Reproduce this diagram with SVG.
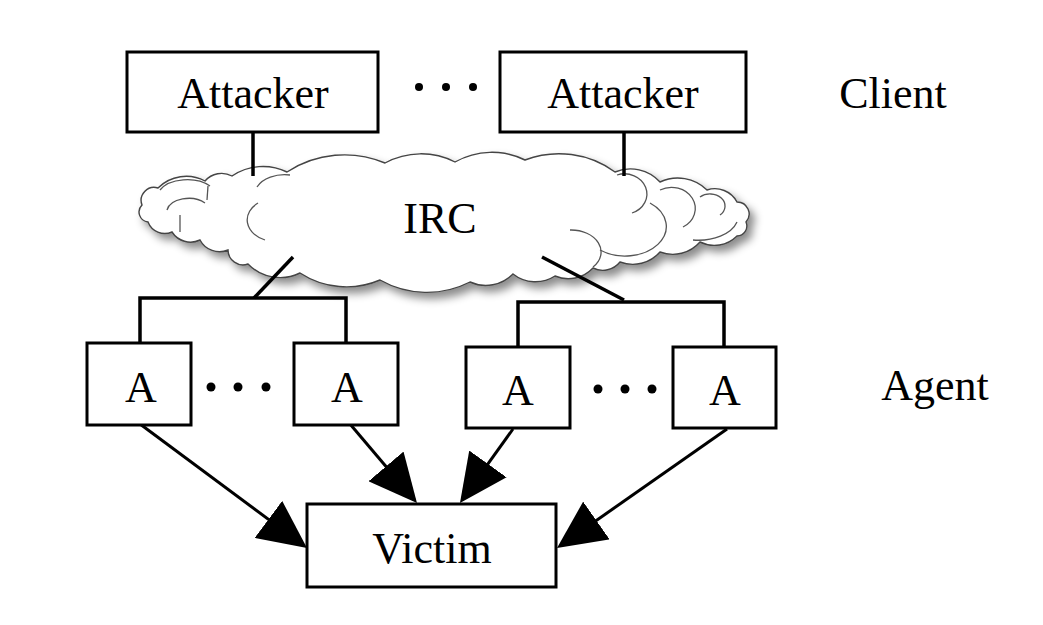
<svg xmlns="http://www.w3.org/2000/svg" width="1043" height="625" viewBox="0 0 1043 625">
  <style>
    .box { fill: #fff; stroke: #000; stroke-width: 3; }
    .lbl { font-family: "Liberation Serif", "Times New Roman", serif; font-size: 44px; fill: #000; text-anchor: middle; }
    .wire { stroke: #000; stroke-width: 3.5; fill: none; stroke-linecap: butt; }
    .arrow { stroke: #000; stroke-width: 3; fill: none; marker-end: url(#head); }
    .puff { fill: #fff; stroke: #444; stroke-width: 1.4; }
    .fold { fill: none; stroke: #555; stroke-width: 1.3; }
    .dot { fill: #000; }
  </style>
  <defs>
    <marker id="head" markerUnits="userSpaceOnUse" markerWidth="50" markerHeight="46" refX="44" refY="23" orient="auto">
      <path d="M0,0 L48,23 L0,46 z" fill="#000"/>
    </marker>
    <filter id="soft" x="-10%" y="-30%" width="125%" height="170%">
      <feGaussianBlur in="SourceAlpha" stdDeviation="4"/>
      <feOffset dx="5" dy="6" result="b"/>
      <feFlood flood-color="#000" flood-opacity="0.45"/>
      <feComposite in2="b" operator="in"/>
      <feMerge>
        <feMergeNode/>
        <feMergeNode in="SourceGraphic"/>
      </feMerge>
    </filter>
  </defs>

  <rect width="1043" height="625" fill="#fff"/>

  <!-- side labels -->
  <text class="lbl" x="893" y="108">Client</text>
  <text class="lbl" x="935" y="400">Agent</text>

  <!-- IRC cloud -->
  <g id="irc">
    <path class="puff" filter="url(#soft)" d="M142,205
      A13,13 0 0 1 158,188
      A40,40 0 0 1 205,181
      A22,22 0 0 1 232,176
      A55,55 0 0 1 287,172
      A105,105 0 0 1 385,163
      A75,75 0 0 1 455,162
      A75,75 0 0 1 525,160
      A95,95 0 0 1 615,172
      A40,40 0 0 1 660,182
      A42,42 0 0 1 707,190
      A25,25 0 0 1 737,202
      A12,12 0 0 1 746,222
      A10,10 0 0 1 737,236
      A32,32 0 0 1 700,242
      A36,36 0 0 1 660,252
      A36,36 0 0 1 620,262
      A22,22 0 0 1 593,268
      A34,34 0 0 1 555,276
      A36,36 0 0 1 513,274
      A38,38 0 0 1 470,282
      A95,95 0 0 1 380,280
      A85,85 0 0 1 300,273
      A45,45 0 0 1 248,264
      A15,15 0 0 1 228,250
      A22,22 0 0 1 200,240
      A22,22 0 0 1 172,232
      A18,18 0 0 1 148,222
      A10,10 0 0 1 142,205 Z"/>
    <!-- inner folds of the puffs -->
    <path class="fold" d="M258,203 A30,22 0 0 0 265,240"/>
    <path class="fold" d="M167,210 A22,14 0 0 1 205,203"/>
    <path class="fold" d="M160,190 A30,18 0 0 1 210,186"/>
    <path class="fold" d="M257,187 A30,20 0 0 1 290,175"/>
    <path class="fold" d="M208,186 L207,200"/>
    <path class="fold" d="M180,215 L180,232"/>
    <path class="fold" d="M632,213 A20,18 0 0 0 617,175"/>
    <path class="fold" d="M570,230 A30,22 0 0 1 593,267"/>
    <path class="fold" d="M650,203 A35,25 0 0 1 600,250"/>
    <path class="fold" d="M683,227 A18,16 0 0 0 660,190"/>
    <path class="fold" d="M693,240 A40,25 0 0 0 737,222"/>
    <path class="fold" d="M720,215 A15,12 0 0 0 700,197"/>
    <text class="lbl" x="440" y="233">IRC</text>
  </g>

  <!-- connectors -->
  <g id="connectors">
    <line class="wire" x1="253" y1="132" x2="253" y2="176"/>
    <line class="wire" x1="624" y1="132" x2="624" y2="176"/>
    <line class="wire" x1="293" y1="257" x2="254" y2="298"/>
    <line class="wire" x1="542" y1="257" x2="624" y2="300"/>
    <polyline class="wire" points="140,343 140,298 346,298 346,343"/>
    <polyline class="wire" points="518,347 518,302 724,302 724,347"/>
    <line class="arrow" x1="140" y1="424" x2="303.8" y2="545.6"/>
    <line class="arrow" x1="350" y1="424" x2="414.4" y2="500"/>
    <line class="arrow" x1="513" y1="429" x2="462.3" y2="499.7"/>
    <line class="arrow" x1="727" y1="429" x2="560.3" y2="545.7"/>
  </g>

  <g id="attacker-1">
    <rect class="box" x="127" y="52" width="251" height="80"/>
    <text class="lbl" x="253" y="108">Attacker</text>
  </g>
  <g id="attacker-dots">
    <circle class="dot" cx="419" cy="87" r="4"/>
    <circle class="dot" cx="446" cy="87" r="4"/>
    <circle class="dot" cx="473" cy="87" r="4"/>
  </g>
  <g id="attacker-2">
    <rect class="box" x="500" y="52" width="246" height="80"/>
    <text class="lbl" x="623" y="108">Attacker</text>
  </g>

  <g id="agent-1">
    <rect class="box" x="87" y="343" width="104" height="82"/>
    <text class="lbl" x="141" y="402">A</text>
  </g>
  <g id="agent-dots-1">
    <circle class="dot" cx="211" cy="387" r="4.5"/>
    <circle class="dot" cx="238" cy="387" r="4.5"/>
    <circle class="dot" cx="266" cy="387" r="4.5"/>
  </g>
  <g id="agent-2">
    <rect class="box" x="294" y="343" width="104" height="82"/>
    <text class="lbl" x="347" y="402">A</text>
  </g>
  <g id="agent-3">
    <rect class="box" x="466" y="347" width="104" height="81"/>
    <text class="lbl" x="518" y="405">A</text>
  </g>
  <g id="agent-dots-2">
    <circle class="dot" cx="598" cy="389" r="4.5"/>
    <circle class="dot" cx="625" cy="389" r="4.5"/>
    <circle class="dot" cx="652" cy="389" r="4.5"/>
  </g>
  <g id="agent-4">
    <rect class="box" x="673" y="347" width="103" height="81"/>
    <text class="lbl" x="725" y="405">A</text>
  </g>

  <g id="victim">
    <rect class="box" x="307" y="504" width="249" height="83"/>
    <text class="lbl" x="432" y="563">Victim</text>
  </g>
</svg>
